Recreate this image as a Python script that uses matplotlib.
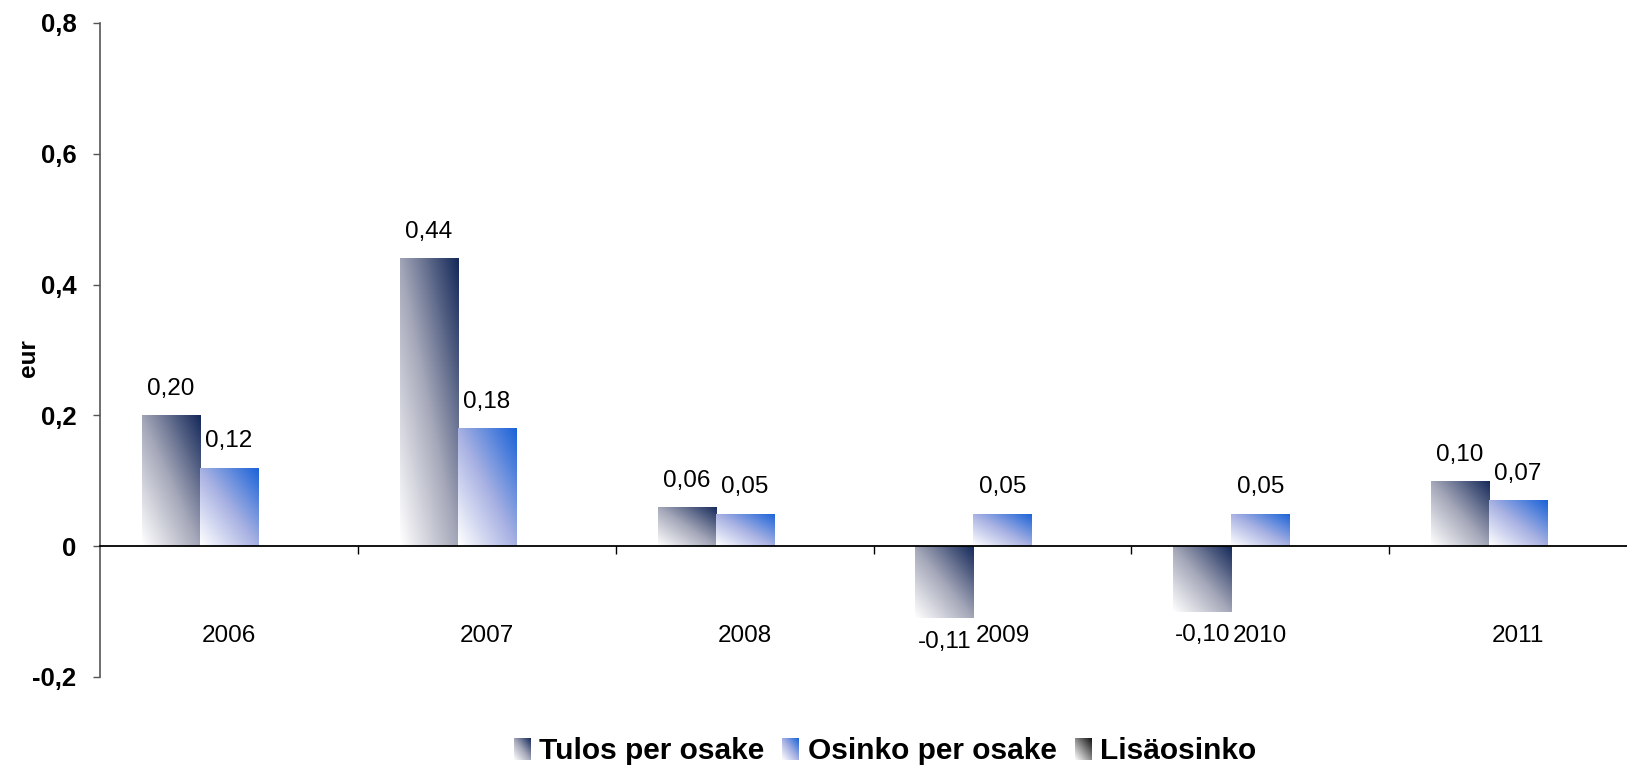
import matplotlib
matplotlib.use("Agg")
import matplotlib.pyplot as plt
import numpy as np
from matplotlib.colors import LinearSegmentedColormap
from matplotlib.patches import Patch

plt.rcParams['font.family'] = ['Liberation Sans', 'DejaVu Sans']

years = ["2006", "2007", "2008", "2009", "2010", "2011"]
tulos = [0.20, 0.44, 0.06, -0.11, -0.10, 0.10]
osinko = [0.12, 0.18, 0.05, 0.05, 0.05, 0.07]
lisa = [0, 0, 0, 0, 0, 0]
series_names = ["Tulos per osake", "Osinko per osake", "Lisäosinko"]

cmaps = [
    LinearSegmentedColormap.from_list("tulos", ["#ffffff", "#a2a5b7", "#15295a"]),
    LinearSegmentedColormap.from_list("osinko", ["#ffffff", "#a6b0e2", "#1a63d8"]),
    LinearSegmentedColormap.from_list("lisa", ["#ffffff", "#8a8a8a", "#111111"]),
]

def fmt(v):
    if abs(v) < 1e-9:
        return "0"
    return ("%.2f" % v).replace(".", ",")

def tick_fmt(v, pos):
    if abs(v) < 1e-9:
        return "0"
    return ("%.1f" % v).replace(".", ",")

# diagonal gradient: white bottom-left -> dark top-right
gx, gy = np.meshgrid(np.linspace(0, 1, 64), np.linspace(0, 1, 64))
grad = (gx + gy) / 2

fig = plt.figure(figsize=(16.27, 7.71), dpi=100)
ax = fig.add_axes([100 / 1627, 94 / 771, 1547 / 1627, 654 / 771])

x = np.arange(len(years))
w = 0.225
all_bars = []
for k, vals in enumerate([tulos, osinko, lisa]):
    bars = ax.bar(x + (k - 1) * w, vals, w, color="none", edgecolor="none")
    all_bars.append(bars)
    for b in bars:
        if b.get_height() == 0:
            continue
        bb = b.get_bbox()
        im = ax.imshow(grad, cmap=cmaps[k], origin="lower", aspect="auto",
                       extent=(bb.xmin, bb.xmax, bb.ymin, bb.ymax), zorder=2)
        im.set_clip_path(b)

ax.set_xlim(-0.5, 5.5)
ax.set_ylim(-0.2, 0.8)

# value labels
for vals, bars in zip([tulos, osinko], all_bars[:2]):
    for v, b in zip(vals, bars):
        cx = b.get_x() + b.get_width() / 2
        if v >= 0:
            ax.annotate(fmt(v), (cx, v), xytext=(0, 11), textcoords="offset points",
                        ha="center", va="bottom", fontsize=17.5)
        else:
            ax.annotate(fmt(v), (cx, v), xytext=(0, -9), textcoords="offset points",
                        ha="center", va="top", fontsize=17.5)

# category labels under the zero line
for xi, yr in zip(x, years):
    ax.text(xi, -0.138, yr, ha="center", va="center", fontsize=17.5)

ax.spines["top"].set_visible(False)
ax.spines["right"].set_visible(False)
ax.spines["bottom"].set_position(("data", 0))
ax.spines["bottom"].set_linewidth(1.3)
ax.spines["left"].set_color("#555555")
ax.spines["left"].set_linewidth(1.2)
ax.set_xticks(np.arange(0.5, 5.5, 1))
ax.set_xticklabels([])
ax.tick_params(axis="x", direction="out", length=6, width=1)
ax.set_yticks([-0.2, 0, 0.2, 0.4, 0.6, 0.8])
ax.yaxis.set_major_formatter(plt.FuncFormatter(tick_fmt))
ax.tick_params(axis="y", direction="out", length=5, width=1, pad=12,
               labelsize=18.5, color="#555555")
for t in ax.get_yticklabels():
    t.set_fontweight("bold")
fig.text(29 / 1627, 413 / 771, "eur", rotation=90, ha="center", va="center",
         fontsize=17.5, fontweight="bold")

handles = [Patch(facecolor="none", edgecolor="none") for _ in series_names]
leg = fig.legend(handles, series_names, loc="center", bbox_to_anchor=(885 / 1627, 20 / 771),
                 ncol=3, frameon=False, prop={"size": 21.5, "weight": "bold"},
                 handlelength=0.55, handleheight=0.75, handletextpad=0.3,
                 columnspacing=0.6)

fig.canvas.draw()
for k, h in enumerate(leg.legend_handles):
    bb = h.get_window_extent()
    fw, fh = fig.bbox.width, fig.bbox.height
    lax = fig.add_axes([bb.x0 / fw, bb.y0 / fh, bb.width / fw, bb.height / fh])
    lax.imshow(grad, cmap=cmaps[k], origin="lower", aspect="auto")
    lax.axis("off")

fig.savefig("out.png", dpi=100)
